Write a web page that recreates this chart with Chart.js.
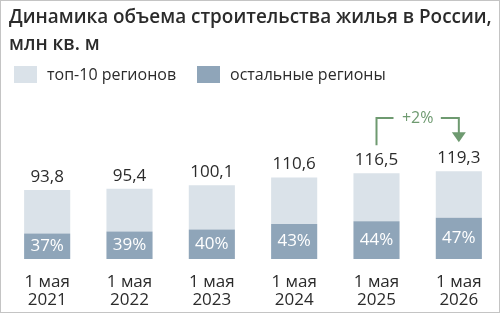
<!DOCTYPE html>
<html><head><meta charset="utf-8">
<script src="https://cdn.jsdelivr.net/npm/chart.js@4.4.1/dist/chart.umd.min.js"></script>
<style>
html,body{margin:0;padding:0;background:#fff;}
#wrap{position:relative;width:500px;height:313px;overflow:hidden;background:#fff;}
#frame{position:absolute;left:0;top:0;width:500px;height:313px;box-sizing:border-box;border:1.5px solid #c4c4c4;pointer-events:none;}
canvas{position:absolute;left:0;top:0;}
</style></head>
<body>
<div id="wrap"><canvas id="c" width="500" height="313"></canvas><div id="frame"></div></div>
<script>
const titleLines = ['Динамика объема строительства жилья в России,', 'млн кв. м'];
const seriesNames = ['топ-10 регионов', 'остальные регионы'];
const dayLabel = '1 мая';
const years = ['2021', '2022', '2023', '2024', '2025', '2026'];
const totals = [93.8, 95.4, 100.1, 110.6, 116.5, 119.3];
const otherShares = [37, 39, 40, 43, 44, 47];
const changeLabel = '+2%';

const LIGHT = '#dae2e9', DARK = '#8fa5b9', TEXT = '#2b2b2b', GREEN = '#6e9a70';
const FONT = '"Open Sans", "Noto Sans", sans-serif';

const otherVals = totals.map((t, i) => t * otherShares[i] / 100);
const topVals = totals.map((t, i) => t - otherVals[i]);

const deco = {
  id: 'deco',
  afterDatasetsDraw(chart) {
    const ctx = chart.ctx;
    const x = chart.scales.x, y = chart.scales.y;
    ctx.save();
    // title (fit to the reference's line width)
    ctx.fillStyle = TEXT;
    ctx.textBaseline = 'middle';
    ctx.textAlign = 'left';
    ctx.font = '600 20px ' + FONT;
    const w = ctx.measureText(titleLines[0]).width;
    const fs = 20 * 483 / w;
    ctx.font = '600 ' + fs.toFixed(2) + 'px ' + FONT;
    ctx.fillText(titleLines[0], 9, 18);
    ctx.fillText(titleLines[1], 9, 45);
    // legend
    const items = [[seriesNames[0], LIGHT, 14], [seriesNames[1], DARK, 197]];
    ctx.font = '400 16px ' + FONT;
    items.forEach(([lab, col, lx]) => {
      ctx.fillStyle = col;
      ctx.fillRect(lx, 66, 23, 17);
      ctx.fillStyle = TEXT;
      ctx.fillText(lab, lx + 33, 75);
    });
    // value labels and shares
    totals.forEach((t, i) => {
      const cx = x.getPixelForValue(i);
      ctx.textAlign = 'center';
      ctx.fillStyle = TEXT;
      ctx.font = '500 17px ' + FONT;
      ctx.fillText(t.toFixed(1).replace('.', ','), cx, y.getPixelForValue(t) - 13);
      ctx.fillStyle = '#ffffff';
      ctx.fillText(otherShares[i] + '%', cx, (y.getPixelForValue(0) + y.getPixelForValue(otherVals[i])) / 2);
    });
    // change arrow between last two bars
    const n = totals.length;
    const x1 = x.getPixelForValue(n - 2), x2 = x.getPixelForValue(n - 1);
    const yTop = 118, yStart = y.getPixelForValue(totals[n - 2]) - 28, yEnd = y.getPixelForValue(totals[n - 1]) - 29;
    ctx.strokeStyle = GREEN; ctx.fillStyle = GREEN; ctx.lineWidth = 2;
    ctx.beginPath();
    ctx.moveTo(x1, yStart); ctx.lineTo(x1, yTop); ctx.lineTo(x1 + 17, yTop);
    ctx.moveTo(x2 - 18, yTop); ctx.lineTo(x2, yTop); ctx.lineTo(x2, yEnd - 9);
    ctx.stroke();
    ctx.beginPath();
    ctx.moveTo(x2 - 7, yEnd - 10); ctx.lineTo(x2 + 7, yEnd - 10); ctx.lineTo(x2, yEnd); ctx.closePath(); ctx.fill();
    ctx.font = '500 16px ' + FONT; ctx.textAlign = 'center';
    ctx.fillText(changeLabel, (x1 + x2) / 2, yTop);
    ctx.restore();
  }
};

new Chart(document.getElementById('c'), {
  type: 'bar',
  data: {
    labels: years.map(yv => [dayLabel, yv]),
    datasets: [
      { label: seriesNames[1], data: otherVals, backgroundColor: DARK, stack: 's' },
      { label: seriesNames[0], data: topVals, backgroundColor: LIGHT, stack: 's' }
    ]
  },
  options: {
    responsive: false, animation: false,
    layout: { padding: { left: 6, right: 0, top: 100, bottom: -2 } },
    datasets: { bar: { barPercentage: 0.56, categoryPercentage: 1 } },
    plugins: { legend: { display: false }, title: { display: false }, tooltip: { enabled: false } },
    scales: {
      x: {
        stacked: true,
        grid: { display: false }, border: { display: false },
        ticks: { color: TEXT, font: { family: FONT, size: 17, weight: '400', lineHeight: 1.06 }, padding: 6 }
      },
      y: { display: false, min: 0, max: 216, stacked: true }
    }
  },
  plugins: [deco]
});
</script>
</body></html>
